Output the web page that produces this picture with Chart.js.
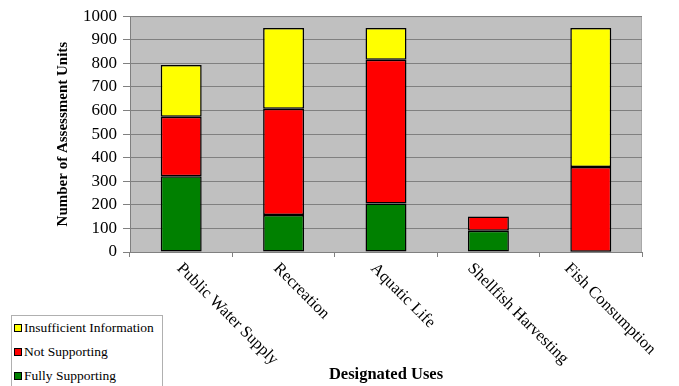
<!DOCTYPE html>
<html>
<head>
<meta charset="utf-8">
<script src="https://cdn.jsdelivr.net/npm/chart.js@4.4.1/dist/chart.umd.min.js"></script>
<style>
  html, body { margin: 0; padding: 0; background: #ffffff; overflow: hidden; }
  #wrap { position: relative; width: 679px; height: 386px; }
  #legend {
    position: absolute; left: 11px; top: 315px; width: 150px; height: 90px;
    border: 1px solid #b0b0b0; background: #ffffff;
    font-family: "Liberation Serif", "DejaVu Serif", "Times New Roman", serif; font-size: 13.5px; color: #000;
  }
  #legend .row { position: absolute; left: 2px; height: 16px; line-height: 16px; white-space: nowrap; }
  #legend .sw { display: inline-block; width: 6px; height: 6px; border: 1px solid #000; margin-right: 2px; vertical-align: 0px; }
</style>
</head>
<body>
<div id="wrap">
  <canvas id="c" width="679" height="386"></canvas>
  <div id="legend"></div>
</div>
<script>
// Designated uses and assessment-unit counts per support status
const categories = ['Public Water Supply', 'Recreation', 'Aquatic Life', 'Shellfish Harvesting', 'Fish Consumption'];
const fullySupporting = [321, 157, 206, 90, 1];
const notSupporting = [253, 451, 609, 61, 360];
const insufficientInfo = [219, 342, 135, null, 589];
const yTicks = [0, 100, 200, 300, 400, 500, 600, 700, 800, 900, 1000];

const SERIF = '"Liberation Serif", "DejaVu Serif", "Times New Roman", serif';

const series = [
  { label: 'Fully Supporting', data: fullySupporting, color: '#008000' },
  { label: 'Not Supporting', data: notSupporting, color: '#ff0000' },
  { label: 'Insufficient Information', data: insufficientInfo, color: '#ffff00' }
];

// Gray plot background plus a light frame on the top and right edges
const plotBackground = {
  id: 'plotBackground',
  beforeDraw(chart) {
    const { ctx, chartArea: a } = chart;
    ctx.save();
    ctx.fillStyle = '#c0c0c0';
    ctx.fillRect(a.left, a.top, a.right - a.left, a.bottom - a.top);
    ctx.strokeStyle = '#a8a8a8';
    ctx.lineWidth = 1;
    ctx.beginPath();
    ctx.moveTo(a.left, a.top + 0.5);
    ctx.lineTo(a.right - 0.5, a.top + 0.5);
    ctx.lineTo(a.right - 0.5, a.bottom);
    ctx.stroke();
    ctx.restore();
  }
};

// Category names slanted downwards to the right below the axis
const slantedLabels = {
  id: 'slantedLabels',
  afterDraw(chart) {
    const { ctx, chartArea: a } = chart;
    const xs = chart.scales.x;
    const first = xs.getPixelForValue(0);
    ctx.save();
    ctx.font = '16.5px ' + SERIF;
    ctx.fillStyle = '#000';
    ctx.textAlign = 'left';
    ctx.textBaseline = 'middle';
    categories.forEach((name, i) => {
      const px = xs.getPixelForValue(i);
      const x = px - 2 - (px - first) * 0.053;
      ctx.save();
      ctx.translate(x, a.bottom + 14);
      ctx.rotate(Math.PI / 4);
      ctx.fillText(name, 0, 0);
      ctx.restore();
    });
    ctx.restore();
  }
};

new Chart(document.getElementById('c'), {
  type: 'bar',
  data: {
    labels: categories,
    datasets: series.map(s => ({
      label: s.label,
      data: s.data,
      backgroundColor: s.color,
      borderColor: '#000000',
      borderWidth: 1.5,
      borderSkipped: false,
      barPercentage: 0.4,
      categoryPercentage: 1.0
    }))
  },
  options: {
    responsive: false,
    animation: false,
    devicePixelRatio: 1,
    layout: { padding: { left: 50, right: 37, top: 14, bottom: 0 } },
    plugins: { legend: { display: false }, tooltip: { enabled: false } },
    scales: {
      x: {
        stacked: true,
        afterFit(s) { s.height = 134; },
        grid: { offset: true, drawOnChartArea: false, color: '#808080', tickLength: 5 },
        border: { color: '#808080', width: 1 },
        ticks: { display: false },
        title: {
          display: true, text: 'Designated Uses',
          font: { family: SERIF, size: 16.5, weight: 'bold' }, color: '#000',
          padding: { top: 0, bottom: 1 }
        }
      },
      y: {
        stacked: true,
        min: 0, max: 1000,
        afterFit(s) { s.width = 80; },
        afterBuildTicks(s) { s.ticks = yTicks.map(v => ({ value: v })); },
        grid: { color: '#808080', tickLength: 7, lineWidth: 1 },
        border: { color: '#808080', width: 1 },
        ticks: { font: { family: SERIF, size: 17 }, color: '#000', padding: 6, callback: v => String(v) },
        title: {
          display: true, text: 'Number of Assessment Units',
          font: { family: SERIF, size: 15, weight: 'bold' }, color: '#000',
          padding: { top: 4, bottom: 4 }
        }
      }
    }
  },
  plugins: [plotBackground, slantedLabels]
});

// Legend listed top-down from the uppermost stack segment
const legend = document.getElementById('legend');
series.slice().reverse().forEach((s, i) => {
  const row = document.createElement('div');
  row.className = 'row';
  row.style.top = (4 + i * 24) + 'px';
  const sw = document.createElement('span');
  sw.className = 'sw';
  sw.style.background = s.color;
  row.appendChild(sw);
  row.appendChild(document.createTextNode(s.label));
  legend.appendChild(row);
});
</script>
</body>
</html>
